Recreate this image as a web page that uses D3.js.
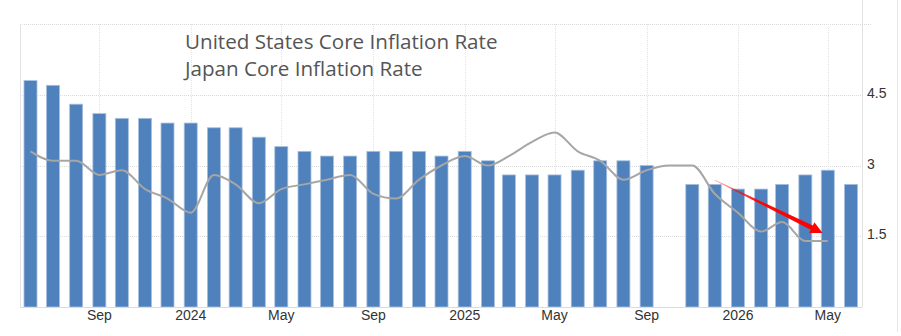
<!DOCTYPE html>
<html lang="en">
<head>
    <meta charset="UTF-8">
    <title>United States vs Japan Core Inflation Rate</title>
    <script src="https://d3js.org/d3.v7.min.js"></script>
    <style>
        body {
            margin: 0;
            background: #fff;
        }
        svg {
            display: block;
            font-family: "Liberation Sans", Arial, sans-serif;
        }
        .title {
            font-family: "Open Sans", "Noto Sans", sans-serif;
            font-size: 20.6px;
            fill: #555;
        }
        .tick-label {
            font-size: 14px;
            fill: #333;
        }
    </style>
</head>
<body>
<div id="chart"></div>
<script>
    // months shown on the chart (first of each month)
    const months = [
        "2023-06", "2023-07", "2023-08", "2023-09", "2023-10", "2023-11", "2023-12",
        "2024-01", "2024-02", "2024-03", "2024-04", "2024-05", "2024-06", "2024-07",
        "2024-08", "2024-09", "2024-10", "2024-11", "2024-12", "2025-01", "2025-02",
        "2025-03", "2025-04", "2025-05", "2025-06", "2025-07", "2025-08", "2025-09",
        "2025-10", "2025-11", "2025-12", "2026-01", "2026-02", "2026-03", "2026-04",
        "2026-05", "2026-06"
    ];

    // United States core inflation (bars), Oct 2025 missing
    const usCore = [
        4.8, 4.7, 4.3, 4.1, 4.0, 4.0, 3.9,
        3.9, 3.8, 3.8, 3.6, 3.4, 3.3, 3.2,
        3.2, 3.3, 3.3, 3.3, 3.2, 3.3, 3.1,
        2.8, 2.8, 2.8, 2.9, 3.1, 3.1, 3.0,
        null, 2.6, 2.6, 2.5, 2.5, 2.6, 2.8,
        2.9, 2.6
    ];

    // Japan core inflation (line), ends May 2026
    const japanCore = [
        3.3, 3.1, 3.1, 2.8, 2.9, 2.5, 2.3,
        2.0, 2.8, 2.6, 2.2, 2.5, 2.6, 2.7,
        2.8, 2.4, 2.3, 2.7, 3.0, 3.2, 3.0,
        3.2, 3.5, 3.7, 3.3, 3.1, 2.7, 2.9,
        3.0, 3.0, 2.4, 2.0, 1.6, 1.8, 1.4,
        1.4
    ];

    const yTicks = [1.5, 3, 4.5];
    const titles = ["United States Core Inflation Rate", "Japan Core Inflation Rate"];

    // red arrow annotation: [month, value] of tail and head
    const arrowFrom = ["2025-12", 2.69];
    const arrowTo = ["2026-04-24", 1.57];

    const width = 901, height = 336;
    const plot = {left: 20, right: 862, top: 24, bottom: 307};

    const parseMonth = d3.timeParse("%Y-%m");
    const parseDay = d3.timeParse("%Y-%m-%d");
    const toDate = s => parseMonth(s) || parseDay(s);

    const x = d3.scaleTime()
        .domain([toDate("2023-06"), toDate("2026-06")])
        .range([30.5, 851]);

    const y = d3.scaleLinear()
        .domain([0, 6])
        .range([plot.bottom, plot.top]);

    const svg = d3.select("#chart")
        .append("svg")
        .attr("width", width)
        .attr("height", height);

    // frame lines
    svg.append("line")
        .attr("x1", plot.left + 0.5).attr("x2", plot.left + 0.5)
        .attr("y1", plot.top).attr("y2", plot.bottom)
        .attr("stroke", "#e2e2e2");
    svg.append("line")
        .attr("x1", plot.right + 0.5).attr("x2", plot.right + 0.5)
        .attr("y1", 0).attr("y2", plot.bottom)
        .attr("stroke", "#e2e2e2");
    svg.append("line")
        .attr("x1", 897.5).attr("x2", 897.5)
        .attr("y1", 0).attr("y2", 332)
        .attr("stroke", "#e6e6e6");

    // horizontal grid
    svg.append("g")
        .selectAll("line")
        .data(yTicks.concat([6]))
        .join("line")
        .attr("x1", plot.left)
        .attr("x2", d => d === 6 ? 872 : plot.right)
        .attr("y1", d => Math.round(y(d)) + 0.5)
        .attr("y2", d => Math.round(y(d)) + 0.5)
        .attr("stroke", "#dcdcdc")
        .attr("stroke-dasharray", "1,1");

    // vertical grid at x ticks
    const xTicks = x.ticks(d3.timeMonth.every(4));
    svg.append("g")
        .selectAll("line")
        .data(xTicks)
        .join("line")
        .attr("x1", d => Math.round(x(d)) + 0.5)
        .attr("x2", d => Math.round(x(d)) + 0.5)
        .attr("y1", plot.top)
        .attr("y2", plot.bottom)
        .attr("stroke", "#e2e2e2")
        .attr("stroke-dasharray", "1,1");

    // bars
    const barData = months.map((m, i) => ({date: toDate(m), value: usCore[i]}))
        .filter(d => d.value != null);
    const barW = 13;
    svg.append("g")
        .selectAll("rect")
        .data(barData)
        .join("rect")
        .attr("x", d => x(d.date) - barW / 2)
        .attr("y", d => y(d.value))
        .attr("width", barW)
        .attr("height", d => y(0) - y(d.value))
        .attr("fill", "#4f81bd")
        .attr("stroke", "#a8c0e0")
        .attr("stroke-width", 0.8);

    // bottom axis line
    svg.append("line")
        .attr("x1", plot.left).attr("x2", plot.right)
        .attr("y1", plot.bottom + 0.5).attr("y2", plot.bottom + 0.5)
        .attr("stroke", "#dcdcdc");

    // japan line
    const lineData = japanCore.map((v, i) => ({date: toDate(months[i]), value: v}));
    svg.append("path")
        .datum(lineData)
        .attr("fill", "none")
        .attr("stroke", "#a6a6a6")
        .attr("stroke-width", 2)
        .attr("d", d3.line()
            .curve(d3.curveMonotoneX)
            .x(d => x(d.date))
            .y(d => y(d.value))
        );

    // x labels
    const fmt = d => d.getMonth() === 0 ? d3.timeFormat("%Y")(d) : d3.timeFormat("%b")(d);
    svg.append("g")
        .selectAll("text")
        .data(xTicks)
        .join("text")
        .attr("class", "tick-label")
        .attr("x", d => x(d))
        .attr("y", 320)
        .attr("text-anchor", "middle")
        .text(fmt);

    // y labels on the right
    svg.append("g")
        .selectAll("text")
        .data(yTicks)
        .join("text")
        .attr("class", "tick-label")
        .attr("x", 867)
        .attr("y", d => y(d) + 3)
        .text(d => d);

    // titles
    svg.append("g")
        .selectAll("text")
        .data(titles)
        .join("text")
        .attr("class", "title")
        .attr("x", 185)
        .attr("y", (d, i) => 49 + i * 27)
        .text(d => d);

    // arrow
    const sx = x(toDate(arrowFrom[0])), sy = y(arrowFrom[1]);
    const ex = x(toDate(arrowTo[0])), ey = y(arrowTo[1]);
    const ang = Math.atan2(ey - sy, ex - sx);
    const ux = Math.cos(ang), uy = Math.sin(ang);
    const nx = -uy, ny = ux;
    const headLen = 12, headW = 6, shaftW = 2.4;
    const bx = ex - ux * headLen, by = ey - uy * headLen;
    const pts = [
        [sx + nx * 0.3, sy + ny * 0.3],
        [bx + nx * shaftW, by + ny * shaftW],
        [bx + nx * headW, by + ny * headW],
        [ex, ey],
        [bx - nx * headW, by - ny * headW],
        [bx - nx * shaftW, by - ny * shaftW],
        [sx - nx * 0.3, sy - ny * 0.3]
    ];
    const grad = svg.append("defs").append("linearGradient")
        .attr("id", "arrowGrad")
        .attr("gradientUnits", "userSpaceOnUse")
        .attr("x1", sx).attr("y1", sy)
        .attr("x2", ex).attr("y2", ey);
    grad.append("stop").attr("offset", "0").attr("stop-color", "#ff0000").attr("stop-opacity", 0.3);
    grad.append("stop").attr("offset", "0.4").attr("stop-color", "#ff0000").attr("stop-opacity", 0.95);
    grad.append("stop").attr("offset", "1").attr("stop-color", "#ff0000").attr("stop-opacity", 1);
    svg.append("path")
        .attr("d", "M" + pts.map(p => p.join(",")).join("L") + "Z")
        .attr("fill", "url(#arrowGrad)");
</script>
</body>
</html>
